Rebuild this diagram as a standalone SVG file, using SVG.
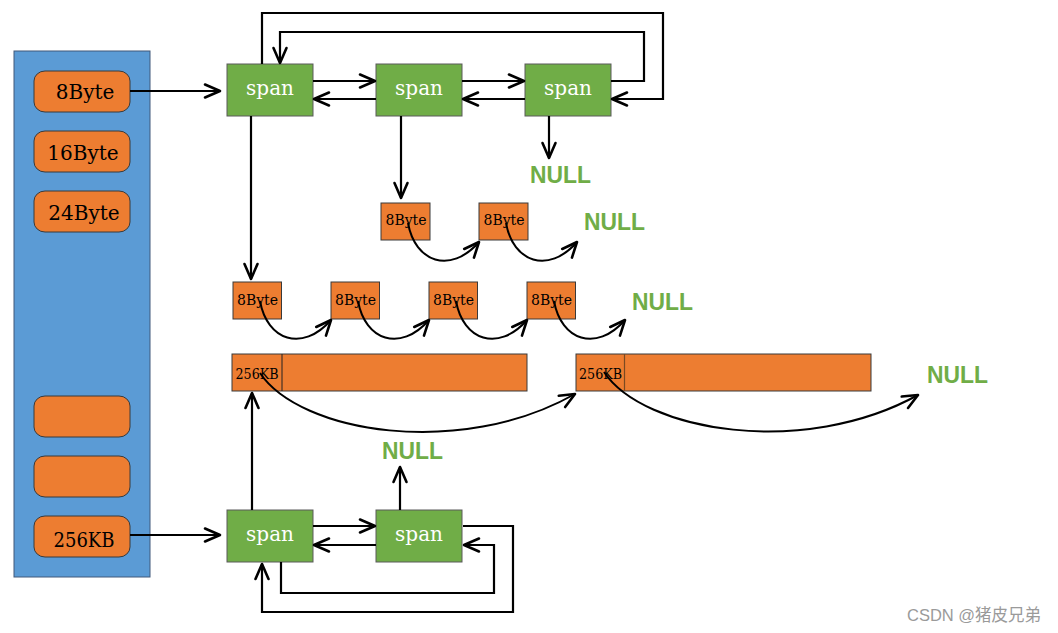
<svg xmlns="http://www.w3.org/2000/svg" width="1058" height="633" viewBox="0 0 1058 633">
<defs>
<marker id="arr" markerUnits="userSpaceOnUse" markerWidth="22" markerHeight="18" viewBox="-18 -9 22 18" refX="0" refY="0" orient="auto" overflow="visible">
<path d="M-15,-6.5 L0,0 L-15,6.5" fill="none" stroke="#000" stroke-width="2.6" stroke-linejoin="round" stroke-linecap="round"/>
</marker>
<style>
.panel{fill:#5B9BD5;stroke:#41597a;stroke-width:1}
.cls{fill:#ED7D31;stroke:#3a3a3a;stroke-width:1}
.span{fill:#70AD47;stroke:#5a5a5a;stroke-width:1}
.blk{fill:#ED7D31;stroke:#3a3a3a;stroke-width:1}
.clst{font-family:"DejaVu Serif","Liberation Serif",serif;font-size:20px;fill:#000;text-anchor:middle}
.spt{font-family:"DejaVu Serif","Liberation Serif",serif;font-size:20px;fill:#fff;text-anchor:middle}
.smt{font-family:"DejaVu Serif","Liberation Serif",serif;font-size:14px;fill:#000}
.null{font-family:"Liberation Sans",Arial,sans-serif;font-size:23px;font-weight:bold;fill:#70AD47}
.ln{fill:none;stroke:#000;stroke-width:2.2;marker-end:url(#arr)}
.cv{fill:none;stroke:#000;stroke-width:2;marker-end:url(#arr)}
.wm{font-family:"Liberation Sans","Noto Sans CJK SC",sans-serif;font-size:16.5px;fill:#9a9a9a}
</style>
</defs>
<rect width="1058" height="633" fill="#fff"/>

<g id="panel">
<rect class="panel" x="14" y="51" width="136" height="526"/>
</g>
<g id="class-8byte"><rect class="cls" x="34" y="71" width="96" height="41" rx="11" ry="10"/><text class="clst" x="85" y="99">8Byte</text></g>
<g id="class-16byte"><rect class="cls" x="34" y="131" width="96" height="41" rx="11" ry="10"/><text class="clst" x="83" y="160">16Byte</text></g>
<g id="class-24byte"><rect class="cls" x="34" y="191" width="96" height="41" rx="11" ry="10"/><text class="clst" x="84" y="220">24Byte</text></g>
<g id="class-empty1"><rect class="cls" x="34" y="396" width="96" height="41" rx="11" ry="10"/></g>
<g id="class-empty2"><rect class="cls" x="34" y="456" width="96" height="41" rx="11" ry="10"/></g>
<g id="class-256kb"><rect class="cls" x="34" y="516" width="96" height="41" rx="11" ry="10"/><text class="clst" x="84" y="547" textLength="61" lengthAdjust="spacingAndGlyphs">256KB</text></g>

<g id="span-top-1"><rect class="span" x="227" y="64" width="86" height="52"/><text class="spt" x="270" y="95">span</text></g>
<g id="span-top-2"><rect class="span" x="376" y="64" width="86" height="52"/><text class="spt" x="419" y="95">span</text></g>
<g id="span-top-3"><rect class="span" x="525" y="64" width="86" height="52"/><text class="spt" x="568" y="95">span</text></g>
<g id="span-bot-1"><rect class="span" x="227" y="510" width="86" height="52"/><text class="spt" x="270" y="541">span</text></g>
<g id="span-bot-2"><rect class="span" x="376" y="510" width="86" height="52"/><text class="spt" x="419" y="541">span</text></g>

<g id="obj-r1-1"><rect class="blk" x="381" y="203" width="49" height="37"/><text class="smt" x="385.5" y="225">8Byte</text></g>
<g id="obj-r1-2"><rect class="blk" x="479" y="203" width="49" height="37"/><text class="smt" x="483.5" y="225">8Byte</text></g>
<g id="obj-r2-1"><rect class="blk" x="233" y="282" width="48.5" height="37"/><text class="smt" x="237" y="305">8Byte</text></g>
<g id="obj-r2-2"><rect class="blk" x="331" y="282" width="48.5" height="37"/><text class="smt" x="335" y="305">8Byte</text></g>
<g id="obj-r2-3"><rect class="blk" x="429" y="282" width="48.5" height="37"/><text class="smt" x="433" y="305">8Byte</text></g>
<g id="obj-r2-4"><rect class="blk" x="527" y="282" width="48.5" height="37"/><text class="smt" x="531" y="305">8Byte</text></g>

<g id="big-1"><rect class="blk" x="232" y="354" width="295" height="37"/><line x1="282" y1="354" x2="282" y2="391" stroke="#222" stroke-width="1"/><text class="smt" x="235.5" y="379" textLength="43" lengthAdjust="spacingAndGlyphs">256KB</text></g>
<g id="big-2"><rect class="blk" x="576" y="354" width="295" height="37"/><line x1="624.5" y1="354" x2="624.5" y2="391" stroke="#7a4a22" stroke-width="1.2"/><text class="smt" x="579" y="379" textLength="43" lengthAdjust="spacingAndGlyphs">256KB</text></g>

<g id="null-1"><text class="null" x="530" y="183" textLength="61" lengthAdjust="spacingAndGlyphs">NULL</text></g>
<g id="null-2"><text class="null" x="584" y="230" textLength="61" lengthAdjust="spacingAndGlyphs">NULL</text></g>
<g id="null-3"><text class="null" x="632" y="310" textLength="61" lengthAdjust="spacingAndGlyphs">NULL</text></g>
<g id="null-4"><text class="null" x="927" y="383" textLength="61" lengthAdjust="spacingAndGlyphs">NULL</text></g>
<g id="null-5"><text class="null" x="382" y="459" textLength="61" lengthAdjust="spacingAndGlyphs">NULL</text></g>

<g id="connectors">
<path class="ln" d="M130,91 H220"/>
<path class="ln" d="M313,81 H375"/>
<path class="ln" d="M376,99 H314"/>
<path class="ln" d="M462,81 H524"/>
<path class="ln" d="M525,99 H463"/>
<path class="ln" d="M262,64 V13 H663 V99 H612"/>
<path class="ln" d="M611,81 H644 V32 H280 V63"/>
<path class="ln" d="M251,116 V279"/>
<path class="ln" d="M401,116 V198"/>
<path class="ln" d="M549,116 V158"/>
<path class="cv" d="M408,223 c7,39 42,52 71,19"/>
<path class="cv" d="M506,223 c7,39 42,52 71,19"/>
<path class="cv" d="M260,301 c7,39 42,52 71,19"/>
<path class="cv" d="M358,301 c7,39 42,52 71,19"/>
<path class="cv" d="M456,301 c7,39 42,52 71,19"/>
<path class="cv" d="M554,301 c7,39 42,52 71,19"/>
<path class="cv" d="M260,373 c40,60 200,86 315,21"/>
<path class="cv" d="M604,372 c40,60 200,86 314,23"/>
<path class="ln" d="M130,535 H220"/>
<path class="ln" d="M313,526 H375"/>
<path class="ln" d="M376,545 H314"/>
<path class="ln" d="M252,510 V393"/>
<path class="ln" d="M400,510 V467"/>
<path class="ln" d="M281,562 V593 H494 V545 H464"/>
<path class="ln" d="M463,526 H513 V612 H262 V564"/>
</g>

<text class="wm" x="907" y="621">CSDN @猪皮兄弟</text>
</svg>
